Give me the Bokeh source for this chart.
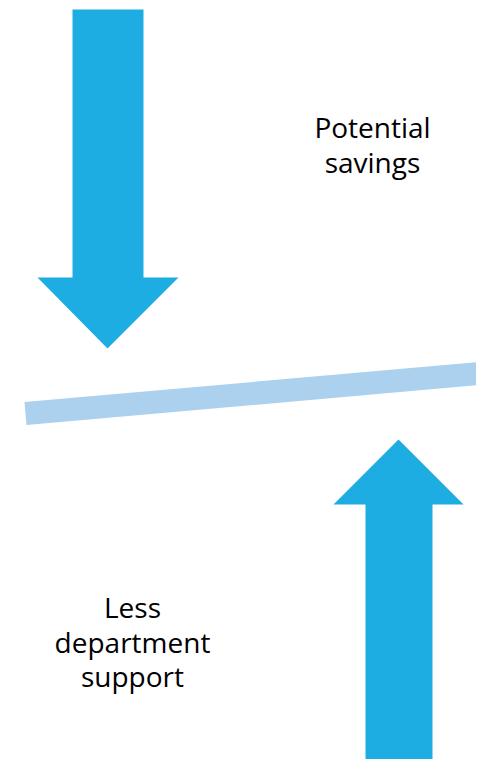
from bokeh.plotting import figure
from bokeh.models import Range1d
from bokeh.core.properties import value
from bokeh.embed import file_html
from bokeh.resources import INLINE

# Diagram geometry in pixel units (y grows downward)
down_shaft_x = [72, 143]
down_shaft_y = [9, 277]
down_head_x = [37, 178]
down_tip = [107, 348]

up_shaft_x = [365, 432]
up_shaft_y = [504, 790]
up_head_x = [333, 463]
up_tip = [398, 439]

bar_left = [25, 413]
bar_right = [479, 373]
bar_thickness = 23

labels = ["Potential", "savings", "Less", "department", "support"]
label_x = [372, 372, 132, 132, 132]
label_y = [126, 161, 606, 641, 675]

ARROW = "#1EADE2"
BAR = "#ABD1EE"

W, H = 476, 759
p = figure(width=W, height=H, output_backend="svg", toolbar_location=None,
           x_range=Range1d(0, W), y_range=Range1d(H, 0),
           min_border=0, outline_line_color=None, background_fill_color="white",
           border_fill_color="white")
p.axis.visible = False
p.grid.visible = False

def down_arrow(sx, sy, hx, tip):
    xs = [sx[0], sx[1], sx[1], hx[1], tip[0], hx[0], sx[0]]
    ys = [sy[0], sy[0], sy[1], sy[1], tip[1], sy[1], sy[1]]
    return xs, ys

def up_arrow(sx, sy, hx, tip):
    xs = [sx[0], sx[1], sx[1], hx[1], tip[0], hx[0], sx[0]]
    ys = [sy[1], sy[1], sy[0], sy[0], tip[1], sy[0], sy[0]]
    return xs, ys

dx, dy = down_arrow(down_shaft_x, down_shaft_y, down_head_x, down_tip)
ux, uy = up_arrow(up_shaft_x, up_shaft_y, up_head_x, up_tip)
p.patch(dx, dy, fill_color=ARROW, line_color=None)
p.patch(ux, uy, fill_color=ARROW, line_color=None)

p.line([bar_left[0], bar_right[0]], [bar_left[1], bar_right[1]],
       line_width=bar_thickness, line_color=BAR, line_cap="butt")

p.text(x=label_x, y=label_y, text=labels, text_align="center",
       text_baseline="alphabetic", text_font=value("Open Sans"),
       text_font_size="28px", text_color="#000000")

open("out.html", "w").write(file_html(p, INLINE))
